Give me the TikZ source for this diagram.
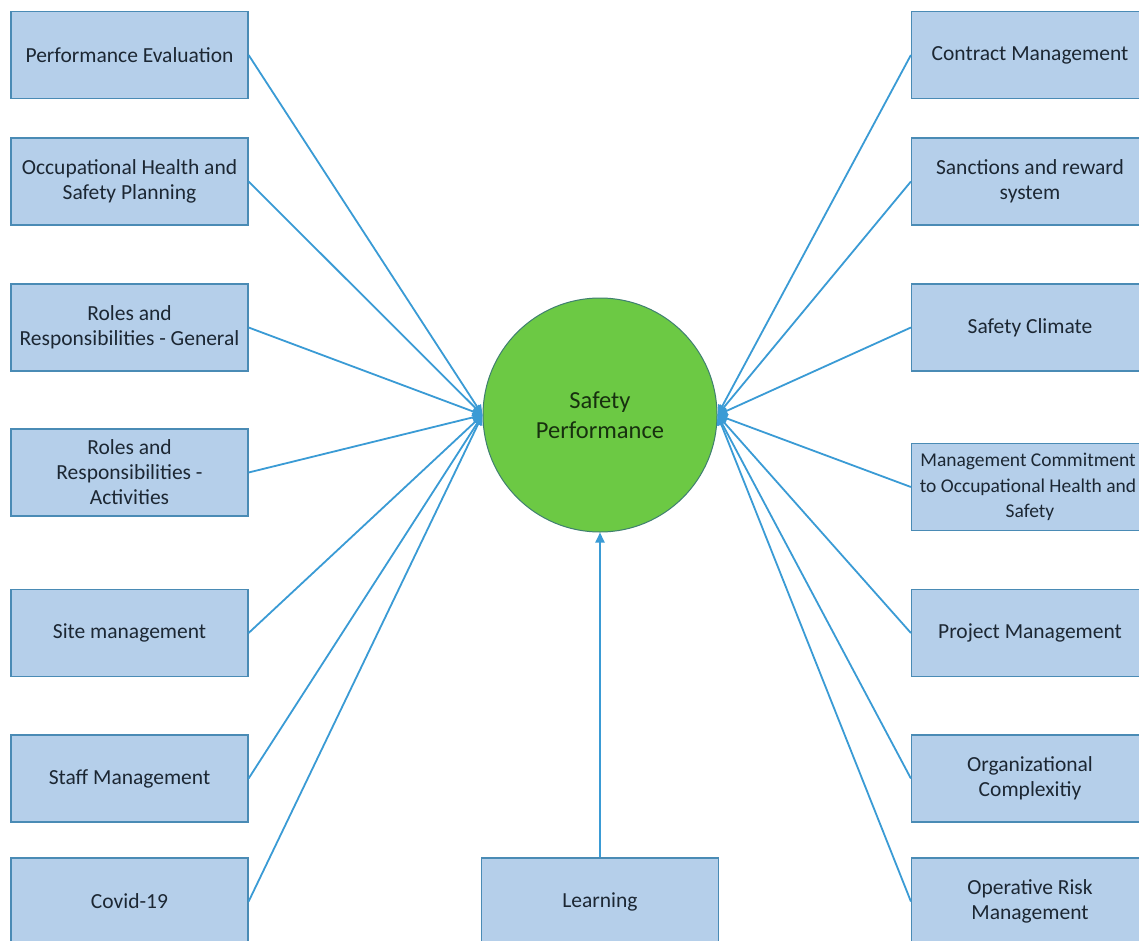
\documentclass[tikz,border=0pt]{standalone}
\usepackage{fontspec}
\setmainfont{Carlito}
\usetikzlibrary{arrows.meta}
\definecolor{boxfill}{HTML}{B5CFEA}
\definecolor{boxline}{HTML}{4A8BB5}
\definecolor{linkblue}{HTML}{3A9BD5}
\definecolor{hubfill}{HTML}{6CC944}
\definecolor{hubline}{HTML}{3F7F70}
\definecolor{labeltext}{HTML}{1C2733}
\definecolor{hubtext}{HTML}{17300F}
\newcommand{\wideline}[1]{\makebox[200pt][c]{#1}}
\begin{document}
\begin{tikzpicture}[x=1pt,y=-1pt,
  factor/.style={draw=boxline, line width=1.2pt, fill=boxfill, rectangle,
    minimum width=237pt, minimum height=87pt, inner xsep=0pt, align=center,
    text=labeltext, font=\fontsize{21.5}{25}\selectfont},
  hub/.style={draw=hubline, line width=1pt, fill=hubfill, circle,
    minimum size=234pt, align=center, text=hubtext,
    font=\fontsize{24.5}{30}\selectfont},
  link/.style={draw=linkblue, line width=1.8pt,
    -{Triangle[length=10pt,width=9pt]}}]
\useasboundingbox (0,0) rectangle (1139,941);
\clip (0,0) rectangle (1139,941);
\fill[white] (0,0) rectangle (1139,941);

% central outcome
\node[hub] (sp) at (600,415) {Safety\\Performance};

% factors on the left
\node[factor] (l1) at (129.5,55)    {Performance Evaluation};
\node[factor] (l2) at (129.5,181.5) {Occupational Health and\\Safety Planning};
\node[factor] (l3) at (129.5,327.5) {Roles and\\\wideline{Responsibilities - General}};
\node[factor] (l4) at (129.5,472.5) {Roles and\\Responsibilities -\\Activities};
\node[factor] (l5) at (129.5,633)   {Site management};
\node[factor] (l6) at (129.5,778.5) {Staff Management};
\node[factor] (l7) at (129.5,901.5) {Covid-19};

% factors on the right
\node[factor] (r1) at (1030,55)    {Contract Management};
\node[factor] (r2) at (1030,181.5) {Sanctions and reward\\system};
\node[factor] (r3) at (1030,327.5) {Safety Climate};
\node[factor, font=\fontsize{19.5}{25.5}\selectfont] (r4) at (1030,487)
  {\hspace*{-4pt}\wideline{Management Commitment}\\\hspace*{-4pt}\wideline{to Occupational Health and}\\Safety};
\node[factor] (r5) at (1030,633)   {Project Management};
\node[factor] (r6) at (1030,778.5) {Organizational\\Complexitiy};
\node[factor] (r7) at (1030,901.5) {Operative Risk\\Management};

% factor below
\node[factor] (ln) at (600,901.5) {Learning};

% connectors
\foreach \n in {l1,l2,l3,l4,l5,l6,l7}
  \draw[link] (\n.east) -- (sp.west);
\foreach \n in {r1,r2,r3,r4,r5,r6,r7}
  \draw[link] (\n.west) -- (sp.east);
\draw[link] (ln.north) -- (sp.south);
\end{tikzpicture}
\end{document}
